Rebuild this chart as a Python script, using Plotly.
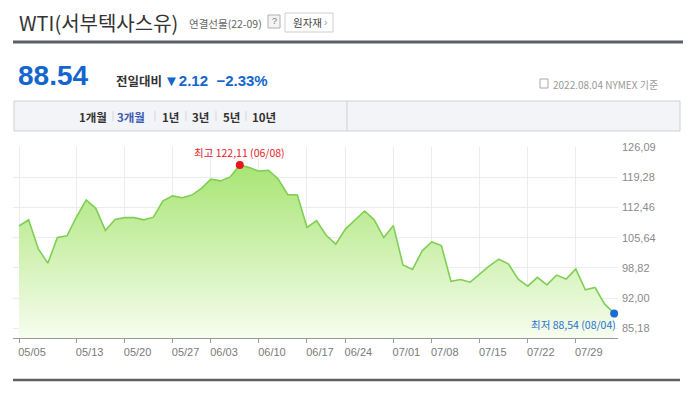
import plotly.graph_objects as go

# ---------------- data ----------------
dates = [
    "05/05", "05/06", "05/09", "05/10", "05/11", "05/12", "05/13", "05/16", "05/17", "05/18",
    "05/19", "05/20", "05/23", "05/24", "05/25", "05/26", "05/27", "05/31", "06/01", "06/02",
    "06/03", "06/06", "06/07", "06/08", "06/09", "06/10", "06/13", "06/14", "06/15", "06/16",
    "06/17", "06/21", "06/22", "06/23", "06/24", "06/27", "06/28", "06/29", "06/30", "07/01",
    "07/05", "07/06", "07/07", "07/08", "07/11", "07/12", "07/13", "07/14", "07/15", "07/18",
    "07/19", "07/20", "07/21", "07/22", "07/25", "07/26", "07/27", "07/28", "07/29", "08/01",
    "08/02", "08/03", "08/04",
]
prices = [
    108.3, 109.7, 103.2, 99.9, 105.7, 106.1, 110.4, 114.2, 112.3, 107.3,
    109.8, 110.2, 110.2, 109.7, 110.3, 114.0, 115.1, 114.7, 115.3, 116.8,
    118.9, 118.5, 119.4, 122.11, 121.5, 120.7, 120.9, 118.9, 115.4, 115.3,
    108.0, 109.5, 106.2, 104.2, 107.6, 109.6, 111.7, 109.7, 105.7, 108.4,
    99.5, 98.5, 102.7, 104.7, 103.9, 95.8, 96.2, 95.6, 97.5, 99.3,
    100.8, 99.7, 96.3, 94.7, 96.7, 95.0, 97.2, 96.3, 98.6, 93.9,
    94.4, 90.7, 88.54,
]
x_ticks = ["05/05", "05/13", "05/20", "05/27", "06/03", "06/10", "06/17",
           "06/24", "07/01", "07/08", "07/15", "07/22", "07/29"]
y_ticks = [85.18, 92.00, 98.82, 105.64, 112.46, 119.28, 126.09]
y_ticktext = [f"{v:.2f}".replace(".", ",") for v in y_ticks]

title_text = "WTI(서부텍사스유)"
sub_text = "연결선물(22-09)"
last_price = "88.54"
change_text = "▼2.12  −2.33%"
date_text = "2022.08.04 NYMEX 기준"
tabs = ["1개월", "3개월", "1년", "3년", "5년", "10년"]
active_tab = "3개월"

# ---------------- layout helpers ----------------
W, H = 700, 395
L, R, T, B = 13, 618, 147, 338


def px(x):
    return (x - L) / (R - L)


def py(y):
    return (B - y) / (B - T)


LAT = "Liberation Sans, Arial, Noto Sans CJK KR, sans-serif"
KR = "Noto Sans CJK KR, Liberation Sans, sans-serif"
BLUE = "#1466cc"

imax = prices.index(max(prices))
imin = prices.index(min(prices))

fig = go.Figure()
fig.add_trace(go.Scatter(
    x=dates, y=prices, mode="lines",
    line=dict(color="#80cf55", width=1.6),
    fill="tozeroy",
    fillgradient=dict(type="vertical", start=83.0, stop=122.11,
                      colorscale=[[0, "rgba(246,253,238,1)"], [1, "rgba(168,229,116,1)"]]),
    hoverinfo="skip", showlegend=False,
))
fig.add_trace(go.Scatter(
    x=[dates[imax]], y=[prices[imax]], mode="markers",
    marker=dict(color="#e8141e", size=8), hoverinfo="skip", showlegend=False,
))
fig.add_trace(go.Scatter(
    x=[dates[imin]], y=[prices[imin]], mode="markers",
    marker=dict(color="#1a6dd6", size=8), hoverinfo="skip", showlegend=False,
))

shapes = []
annotations = []

# header lines
shapes.append(dict(type="line", xref="paper", yref="paper", x0=px(13), x1=px(683),
                   y0=py(42), y1=py(42), line=dict(color="#596068", width=3)))
shapes.append(dict(type="line", xref="paper", yref="paper", x0=px(13), x1=px(680),
                   y0=py(380), y1=py(380), line=dict(color="#606060", width=2.5)))
# ? box
shapes.append(dict(type="rect", xref="paper", yref="paper", x0=px(268), x1=px(280),
                   y0=py(28), y1=py(15), line=dict(color="#b0b0b0", width=1), fillcolor="#f4f4f4"))
# button box
shapes.append(dict(type="rect", xref="paper", yref="paper", x0=px(285), x1=px(333),
                   y0=py(32), y1=py(13), line=dict(color="#cfcfcf", width=1), fillcolor="#ffffff"))
# tab bar
shapes.append(dict(type="rect", xref="paper", yref="paper", x0=px(14), x1=px(680),
                   y0=py(131), y1=py(101), line=dict(color="#cdd0d6", width=1), fillcolor="#f3f4f7"))
shapes.append(dict(type="line", xref="paper", yref="paper", x0=px(347), x1=px(347),
                   y0=py(131), y1=py(101), line=dict(color="#cdd0d6", width=1)))
for sx in [113, 155, 186, 216, 246]:
    shapes.append(dict(type="line", xref="paper", yref="paper", x0=px(sx), x1=px(sx),
                       y0=py(121), y1=py(111), line=dict(color="#d5d7dc", width=1)))
# small date icon
shapes.append(dict(type="rect", xref="paper", yref="paper", x0=px(540), x1=px(548),
                   y0=py(88), y1=py(79), line=dict(color="#a8a8a8", width=1), fillcolor="#ffffff"))

annotations += [
    dict(text=title_text, x=px(17), y=py(22), xref="paper", yref="paper", xanchor="left",
         yanchor="middle", showarrow=False, font=dict(family=KR, size=20, color="#333333")),
    dict(text=sub_text, x=px(187), y=py(24), xref="paper", yref="paper", xanchor="left",
         yanchor="middle", showarrow=False, font=dict(family=KR, size=10.5, color="#666666")),
    dict(text="?", x=px(274), y=py(21.5), xref="paper", yref="paper", xanchor="center",
         yanchor="middle", showarrow=False, font=dict(family=LAT, size=9, color="#777777")),
    dict(text="원자재", x=px(291), y=py(22.5), xref="paper", yref="paper", xanchor="left",
         yanchor="middle", showarrow=False, font=dict(family=KR, size=10.5, color="#444444")),
    dict(text="›", x=px(325), y=py(22.5), xref="paper", yref="paper", xanchor="center",
         yanchor="middle", showarrow=False, font=dict(family=LAT, size=10, color="#999999")),
    dict(text=f"<b>{last_price}</b>", x=px(16), y=py(75), xref="paper", yref="paper",
         xanchor="left", yanchor="middle", showarrow=False,
         font=dict(family=LAT, size=28, color=BLUE)),
    dict(text="<b>전일대비</b>", x=px(114), y=py(80), xref="paper", yref="paper",
         xanchor="left", yanchor="middle", showarrow=False,
         font=dict(family=KR, size=12.5, color="#333333")),
    dict(text=f"<b>{change_text}</b>", x=px(162), y=py(80), xref="paper", yref="paper",
         xanchor="left", yanchor="middle", showarrow=False,
         font=dict(family=LAT, size=15, color=BLUE)),
    dict(text=date_text, x=px(660), y=py(84), xref="paper", yref="paper",
         xanchor="right", yanchor="middle", showarrow=False,
         font=dict(family=KR, size=10, color="#999999")),
]

tab_x = [93, 131, 170, 200, 231, 264]
for t, tx in zip(tabs, tab_x):
    annotations.append(dict(text=f"<b>{t}</b>", x=px(tx), y=py(116.5), xref="paper", yref="paper",
                            xanchor="center", yanchor="middle", showarrow=False,
                            font=dict(family=KR, size=11.5,
                                      color="#3d5bb5" if t == active_tab else "#333333")))

# max / min labels
annotations.append(dict(
    text=f"최고 {prices[imax]:.2f}".replace(".", ",") + f" ({dates[imax]})",
    x=dates[imax], y=prices[imax], xref="x", yref="y", xanchor="center", yanchor="middle",
    yshift=12, showarrow=False, font=dict(family=KR, size=10.5, color="#e8202a")))
annotations.append(dict(
    text=f"최저 {prices[imin]:.2f}".replace(".", ",") + f" ({dates[imin]})",
    x=dates[imin], y=prices[imin], xref="x", yref="y", xanchor="right", yanchor="middle",
    xshift=4, yshift=-11, showarrow=False, font=dict(family=KR, size=10.5, color="#2a6fd0")))

n = len(dates)
fig.update_layout(
    width=W, height=H,
    margin=dict(l=L, r=W - R, t=T, b=H - B, pad=0),
    paper_bgcolor="white", plot_bgcolor="white",
    shapes=shapes, annotations=annotations,
    showlegend=False,
    xaxis=dict(
        type="category", range=[-0.625, n - 1 + 0.4],
        tickmode="array", tickvals=x_ticks, ticktext=x_ticks,
        showgrid=True, gridcolor="#ececec", gridwidth=1,
        showline=True, linecolor="#9a9a9a", linewidth=1,
        ticks="outside", ticklen=4, tickcolor="#9a9a9a",
        tickfont=dict(family=LAT, size=11, color="#7a7a7a"),
        ticklabelshift=13, zeroline=False, fixedrange=True,
    ),
    yaxis=dict(
        range=[82.99, 126.16], side="right",
        tickmode="array", tickvals=y_ticks, ticktext=y_ticktext,
        showgrid=True, gridcolor="#ececec", gridwidth=1,
        showline=False, ticks="", zeroline=False,
        tickfont=dict(family=LAT, size=11, color="#8a8a8a"),
        ticklabelstandoff=3, fixedrange=True,
    ),
)

fig.write_html(
    "out.html",
    config={"displayModeBar": False},
    post_script="document.body.style.margin='0';document.body.style.overflow='hidden';",
)
